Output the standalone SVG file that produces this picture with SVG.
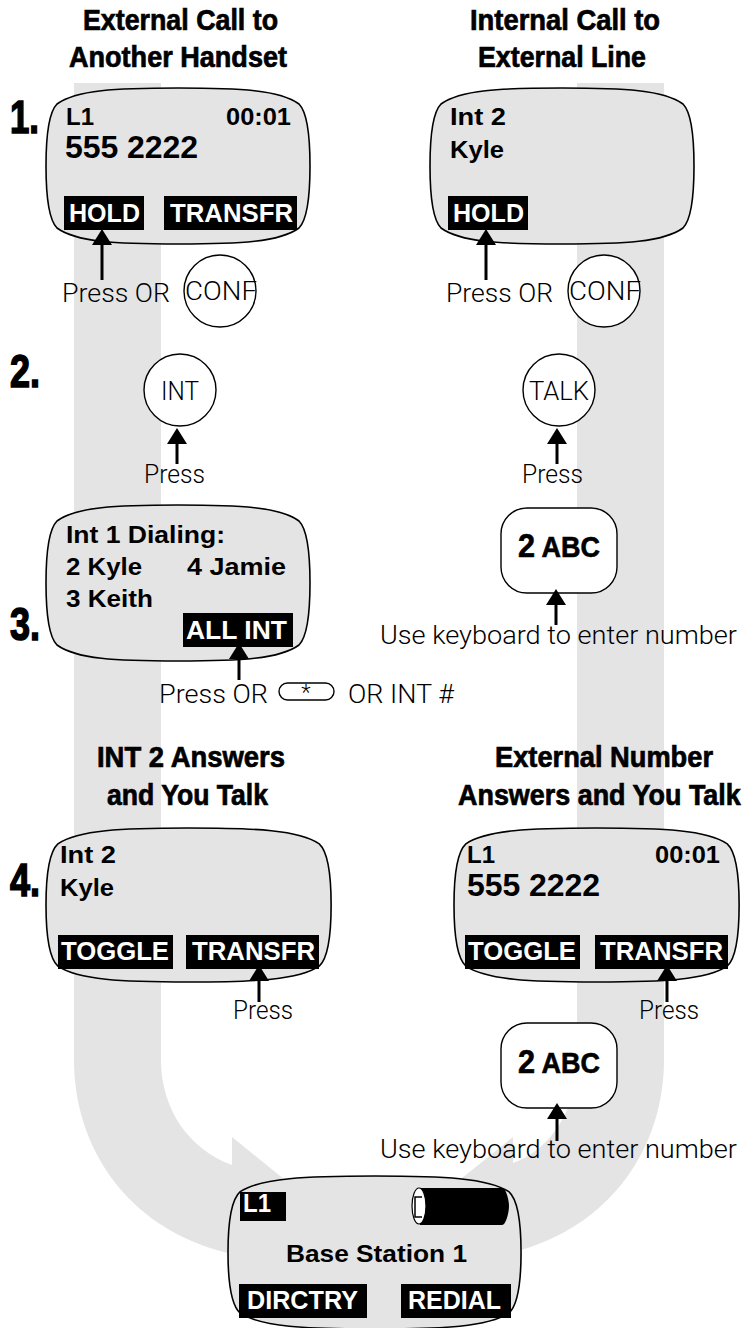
<svg xmlns="http://www.w3.org/2000/svg" width="745" height="1328" viewBox="0 0 745 1328">
<style>
text{font-family:"Liberation Sans",Arial,sans-serif;fill:#000}
.h{font-size:29.5px;font-weight:700;stroke:#000;stroke-width:.7px}
.n{font-size:46px;font-weight:700;stroke:#000;stroke-width:1.6px}
.d{font-size:24px;font-weight:700}
.b{font-size:32px;font-weight:700}
.w{font-size:25px;font-weight:700;fill:#fff}
.l{font-family:Roboto,"Liberation Sans",sans-serif;font-size:25px;font-weight:300}
.k{font-size:33px;font-weight:700;stroke:#000;stroke-width:.6px}
.lcd{fill:#e4e4e4;stroke:#000;stroke-width:1.6px;vector-effect:non-scaling-stroke}
.key{fill:#fff;stroke:#000;stroke-width:1.4px}
.ln{stroke:#000;stroke-width:3px;fill:none}
.band{fill:#e4e4e4}
</style>
<defs>
<path id="sq" class="lcd" d="M132,0C194,0 234,2 253,16C262,25 264,50 264,78C264,106 262,131 253,140C234,154 194,156 132,156C70,156 30,154 11,140C2,131 0,106 0,78C0,50 2,25 11,16C30,2 70,0 132,0Z"/>
<path id="ar" d="M-10,16L0,0L10,16Z"/>
</defs>
<g id="bands">
<path class="band" d="M74,83H161V1060C161,1110 190,1150 232,1165V1137L285,1180L228,1253C125,1228 74,1145 74,1060Z"/>
<path class="band" d="M577,83H664V1060C664,1145 613,1228 510,1253L462,1178L513,1137V1163C550,1150 577,1110 577,1060Z"/>
</g>
<g id="headings">
<text class="h" x="83" y="30" textLength="195" lengthAdjust="spacingAndGlyphs">External Call to</text>
<text class="h" x="69" y="67" textLength="218" lengthAdjust="spacingAndGlyphs">Another Handset</text>
<text class="h" x="470" y="30" textLength="190" lengthAdjust="spacingAndGlyphs">Internal Call to</text>
<text class="h" x="478" y="67" textLength="168" lengthAdjust="spacingAndGlyphs">External Line</text>
<text class="h" x="97" y="767" textLength="188" lengthAdjust="spacingAndGlyphs">INT 2 Answers</text>
<text class="h" x="107" y="805" textLength="161" lengthAdjust="spacingAndGlyphs">and You Talk</text>
<text class="h" x="495" y="767" textLength="218" lengthAdjust="spacingAndGlyphs">External Number</text>
<text class="h" transform="translate(458,805) scale(.913,1)">Answers and You Talk</text>
</g>
<g id="steps">
<text class="n" x="10" y="133" textLength="29" lengthAdjust="spacingAndGlyphs">1.</text>
<text class="n" x="10" y="387" textLength="30" lengthAdjust="spacingAndGlyphs">2.</text>
<text class="n" x="10" y="640" textLength="30" lengthAdjust="spacingAndGlyphs">3.</text>
<text class="n" x="10" y="896" textLength="30" lengthAdjust="spacingAndGlyphs">4.</text>
</g>
<g id="phone1a">
<use href="#sq" x="46" y="88"/>
<text class="d" x="66" y="125" textLength="28" lengthAdjust="spacingAndGlyphs">L1</text>
<text class="d" x="226" y="125" textLength="65" lengthAdjust="spacingAndGlyphs">00:01</text>
<text class="b" x="65" y="158" textLength="133">555 2222</text>
<rect x="64" y="196" width="80" height="34"/><text class="w" x="69" y="222" textLength="71" lengthAdjust="spacingAndGlyphs">HOLD</text>
<rect x="164" y="196" width="133" height="34"/><text class="w" x="170" y="222" textLength="123" lengthAdjust="spacingAndGlyphs">TRANSFR</text>
</g>
<g id="phone1b">
<use href="#sq" x="430" y="88"/>
<text class="d" x="450" y="125" textLength="56" lengthAdjust="spacingAndGlyphs">Int 2</text>
<text class="d" x="450" y="158" textLength="54" lengthAdjust="spacingAndGlyphs">Kyle</text>
<rect x="448" y="196" width="80" height="34"/><text class="w" x="453" y="222" textLength="71" lengthAdjust="spacingAndGlyphs">HOLD</text>
</g>
<g id="conf1"><circle class="key" cx="220" cy="291" r="36"/><text class="l" x="185" y="300" textLength="72" lengthAdjust="spacingAndGlyphs">CONF</text></g>
<g id="conf2"><circle class="key" cx="604" cy="291" r="36"/><text class="l" x="569" y="300" textLength="72" lengthAdjust="spacingAndGlyphs">CONF</text></g>
<g id="int-key"><circle class="key" cx="180" cy="390" r="36"/><text class="l" x="161" y="400" textLength="38" lengthAdjust="spacingAndGlyphs">INT</text></g>
<g id="talk-key"><circle class="key" cx="559" cy="390" r="36"/><text class="l" x="529" y="400" textLength="60" lengthAdjust="spacingAndGlyphs">TALK</text></g>
<g id="phone3">
<use href="#sq" x="46" y="505"/>
<text class="d" x="66" y="543" textLength="159" lengthAdjust="spacingAndGlyphs">Int 1 Dialing:</text>
<text class="d" x="66" y="575" textLength="76" lengthAdjust="spacingAndGlyphs">2 Kyle</text>
<text class="d" x="187" y="575" textLength="99" lengthAdjust="spacingAndGlyphs">4 Jamie</text>
<text class="d" x="66" y="607" textLength="87" lengthAdjust="spacingAndGlyphs">3 Keith</text>
<rect x="183" y="613" width="110" height="34"/><text class="w" x="186" y="639" textLength="101" lengthAdjust="spacingAndGlyphs">ALL INT</text>
</g>
<g id="key2a"><rect class="key" x="501" y="508" width="116" height="85" rx="26"/><text class="k" x="518" y="557" textLength="82" lengthAdjust="spacingAndGlyphs">2<tspan font-size="29"> ABC</tspan></text></g>
<g id="star-key"><rect class="key" x="279" y="683" width="55" height="17" rx="8.5"/><text class="l" x="306" y="700" text-anchor="middle" style="font-size:22px">*</text></g>
<g id="phone4a">
<use href="#sq" transform="translate(46,828) scale(1.08,.987)"/>
<text class="d" x="60" y="863" textLength="56" lengthAdjust="spacingAndGlyphs">Int 2</text>
<text class="d" x="60" y="896" textLength="54" lengthAdjust="spacingAndGlyphs">Kyle</text>
<rect x="58" y="935" width="115" height="34"/><text class="w" x="61" y="960" textLength="108" lengthAdjust="spacingAndGlyphs">TOGGLE</text>
<rect x="186" y="935" width="133" height="34"/><text class="w" x="192" y="960" textLength="123" lengthAdjust="spacingAndGlyphs">TRANSFR</text>
</g>
<g id="phone4b">
<use href="#sq" transform="translate(454,828) scale(1.08,.987)"/>
<text class="d" x="467" y="863" textLength="28" lengthAdjust="spacingAndGlyphs">L1</text>
<text class="d" x="655" y="863" textLength="65" lengthAdjust="spacingAndGlyphs">00:01</text>
<text class="b" x="467" y="896" textLength="133">555 2222</text>
<rect x="465" y="935" width="115" height="34"/><text class="w" x="468" y="960" textLength="108" lengthAdjust="spacingAndGlyphs">TOGGLE</text>
<rect x="595" y="935" width="133" height="34"/><text class="w" x="600" y="960" textLength="123" lengthAdjust="spacingAndGlyphs">TRANSFR</text>
</g>
<g id="key2b"><rect class="key" x="501" y="1023" width="116" height="85" rx="26"/><text class="k" x="518" y="1073" textLength="82" lengthAdjust="spacingAndGlyphs">2<tspan font-size="29"> ABC</tspan></text></g>
<g id="base">
<use href="#sq" transform="translate(228,1176) scale(1.11,.98)"/>
<rect x="240" y="1192" width="46" height="29"/><text class="w" x="243" y="1212" textLength="28" lengthAdjust="spacingAndGlyphs">L1</text>
<path d="M420,1188H502C506,1188 509,1200 509,1206C509,1212 506,1225 502,1225H420Z"/>
<ellipse cx="419" cy="1206" rx="7" ry="18" fill="#fff" stroke="#000" stroke-width="1.2"/>
<path d="M422,1197H415V1217H422" fill="none" stroke="#000" stroke-width="1.5"/>
<text class="d" x="286" y="1262" textLength="181" lengthAdjust="spacingAndGlyphs">Base Station 1</text>
<rect x="239" y="1284" width="128" height="34"/><text class="w" x="247" y="1309" textLength="111" lengthAdjust="spacingAndGlyphs">DIRCTRY</text>
<rect x="401" y="1284" width="110" height="34"/><text class="w" x="408" y="1309" textLength="93" lengthAdjust="spacingAndGlyphs">REDIAL</text>
</g>
<g id="connectors">
<path class="ln" d="M102,280V243M486,280V243M177,464V442M557,464V442M239,680V656M556,625V603M259,1002V979M667,1002V979M557,1141V1117"/>
<use href="#ar" x="102" y="229"/>
<use href="#ar" x="486" y="229"/>
<use href="#ar" x="177" y="428"/>
<use href="#ar" x="557" y="428"/>
<use href="#ar" x="239" y="643"/>
<use href="#ar" x="556" y="589"/>
<use href="#ar" x="259" y="965"/>
<use href="#ar" x="667" y="965"/>
<use href="#ar" x="557" y="1103"/>
</g>
<g id="labels">
<text class="l" x="62" y="302" textLength="108" lengthAdjust="spacingAndGlyphs">Press OR</text>
<text class="l" x="446" y="302" textLength="107" lengthAdjust="spacingAndGlyphs">Press OR</text>
<text class="l" x="144" y="483" textLength="61" lengthAdjust="spacingAndGlyphs">Press</text>
<text class="l" x="522" y="483" textLength="61" lengthAdjust="spacingAndGlyphs">Press</text>
<text class="l" x="380" y="644" textLength="357" lengthAdjust="spacingAndGlyphs">Use keyboard to enter number</text>
<text class="l" x="159" y="703" textLength="109" lengthAdjust="spacingAndGlyphs">Press OR</text>
<text class="l" x="348" y="703" textLength="106" lengthAdjust="spacingAndGlyphs">OR INT #</text>
<text class="l" x="233" y="1019" textLength="60" lengthAdjust="spacingAndGlyphs">Press</text>
<text class="l" x="639" y="1019" textLength="60" lengthAdjust="spacingAndGlyphs">Press</text>
<text class="l" x="380" y="1158" textLength="357" lengthAdjust="spacingAndGlyphs">Use keyboard to enter number</text>
</g>
</svg>
